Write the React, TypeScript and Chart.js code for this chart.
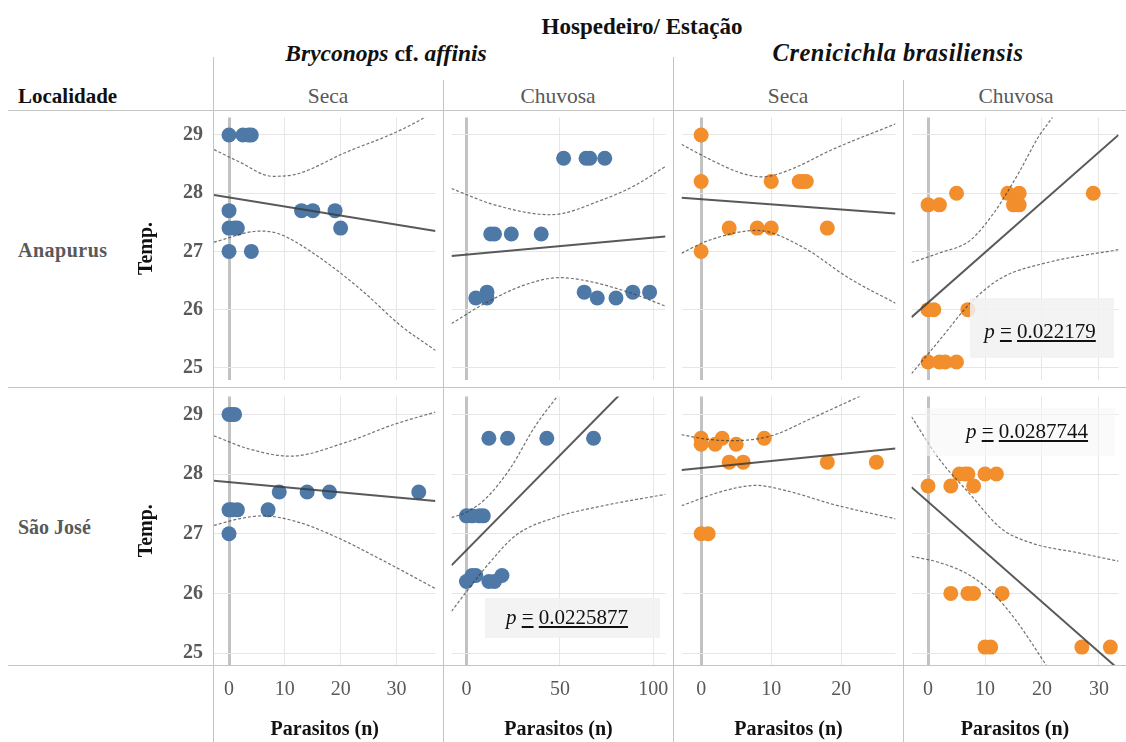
import React, { useEffect, useRef } from "react";
import { Chart, registerables } from "chart.js";
Chart.register(...registerables);

type Pt = [number, number];

// ---------- axes ----------
const tempTicks = [25, 26, 27, 28, 29];
const tempMin = 24.8;
const tempMax = 29.3;
const colXTicks: number[][] = [[0, 10, 20, 30], [0, 50, 100], [0, 10, 20], [0, 10, 20, 30]];
const colXMin = [-2.69, -8, -2.8, -2.9];
const colXMax = [37, 106.5, 27.73, 33.43];

// ---------- labels ----------
const rowLabels = ["Anapurus", "São José"];
const seasonLabels = ["Seca", "Chuvosa", "Seca", "Chuvosa"];
const pValues = ["0.022179", "0.0225877", "0.0287744"];

// ---------- Anapurus / Bryconops / Seca ----------
const anaBrySecaPts: Pt[] = [[0, 29], [2.5, 29], [3.5, 29], [4, 29], [0, 27.7], [0, 27.4], [1, 27.4], [1.5, 27.4], [0, 27], [4, 27], [13, 27.7], [15, 27.7], [19, 27.7], [20, 27.4]];
const anaBrySecaFit: Pt[] = [[-2.7, 27.97], [37, 27.35]];
const anaBrySecaUp: Pt[] = [[-2.7, 28.75], [1.8, 28.54], [7.8, 28.29], [12.2, 28.33], [20.9, 28.7], [29.5, 29.03], [34.5, 29.27], [37, 29.42]];
const anaBrySecaLo: Pt[] = [[-2.7, 27.16], [5.6, 27.35], [9, 27.3], [15.1, 26.97], [23.8, 26.33], [30.7, 25.73], [37, 25.3]];

// ---------- Anapurus / Bryconops / Chuvosa ----------
const anaBryChuvPts: Pt[] = [[52, 28.6], [64, 28.6], [66, 28.6], [74, 28.6], [13, 27.3], [15, 27.3], [24, 27.3], [40, 27.3], [5, 26.2], [11, 26.3], [11, 26.2], [63, 26.3], [70, 26.2], [80, 26.2], [89, 26.3], [98, 26.3]];
const anaBryChuvFit: Pt[] = [[-8, 26.92], [106.5, 27.255]];
const anaBryChuvUp: Pt[] = [[-8, 28.08], [15, 27.8], [45, 27.63], [73, 27.89], [90, 28.13], [106.5, 28.46]];
const anaBryChuvLo: Pt[] = [[-8, 25.76], [10, 26.11], [31.7, 26.43], [50, 26.55], [65, 26.49], [86.7, 26.3], [106.5, 26.06]];

// ---------- Anapurus / Crenicichla / Seca ----------
const anaCreSecaPts: Pt[] = [[0, 29], [0, 28.2], [10, 28.2], [14, 28.2], [14.5, 28.2], [15, 28.2], [4, 27.4], [8, 27.4], [10, 27.4], [18, 27.4], [0, 27]];
const anaCreSecaFit: Pt[] = [[-2.8, 27.92], [27.73, 27.65]];
const anaCreSecaUp: Pt[] = [[-2.8, 28.84], [1.1, 28.59], [5.6, 28.35], [8.7, 28.28], [12.2, 28.38], [18.9, 28.76], [27.73, 29.19]];
const anaCreSecaLo: Pt[] = [[-2.8, 26.97], [1.1, 27.19], [8, 27.36], [14.4, 27.08], [21.1, 26.54], [27.73, 26.11]];

// ---------- Anapurus / Crenicichla / Chuvosa ----------
const anaCreChuvPts: Pt[] = [[0, 27.8], [2, 27.8], [5, 28], [14, 28], [16, 28], [15, 27.8], [16, 27.8], [29, 28], [0, 26], [1, 26], [7, 26], [0, 25.1], [2, 25.1], [3, 25.1], [5, 25.1]];
const anaCreChuvFit: Pt[] = [[-2.9, 25.87], [33.43, 29.0]];
const anaCreChuvUp: Pt[] = [[-2.9, 26.81], [1.9, 26.97], [7.4, 27.19], [11.7, 27.68], [13.8, 28.0], [16.1, 28.38], [19.4, 28.97], [21.8, 29.3], [25, 29.8]];
const anaCreChuvLo: Pt[] = [[-2.9, 24.9], [1.9, 25.46], [7.4, 26.11], [12.8, 26.54], [21, 26.81], [33.43, 27.03]];

// ---------- São José / Bryconops / Seca ----------
const sjBrySecaPts: Pt[] = [[0, 29], [0.5, 29], [1, 29], [0, 27.4], [0.5, 27.4], [1.5, 27.4], [7, 27.4], [0, 27], [9, 27.7], [14, 27.7], [18, 27.7], [34, 27.7]];
const sjBrySecaFit: Pt[] = [[-2.7, 27.89], [37, 27.55]];
const sjBrySecaUp: Pt[] = [[-2.7, 28.64], [3.6, 28.42], [11, 28.3], [20.9, 28.53], [29.5, 28.83], [37, 29.04]];
const sjBrySecaLo: Pt[] = [[-2.7, 27.14], [1.8, 27.25], [6, 27.3], [12.2, 27.2], [19.1, 26.95], [27.2, 26.57], [37, 26.08]];

// ---------- São José / Bryconops / Chuvosa ----------
const sjBryChuvPts: Pt[] = [[12, 28.6], [22, 28.6], [43, 28.6], [68, 28.6], [0, 27.3], [3, 27.3], [7, 27.3], [9, 27.3], [0, 26.2], [3, 26.3], [5, 26.3], [12, 26.2], [15, 26.2], [19, 26.3]];
const sjBryChuvFit: Pt[] = [[-8, 26.47], [106.5, 30.11]];
const sjBryChuvUp: Pt[] = [[-8, 27.27], [0, 27.36], [10, 27.58], [23.3, 28.09], [36.7, 28.8], [49, 29.32], [60, 29.8]];
const sjBryChuvLo: Pt[] = [[-8, 25.7], [0, 26.03], [11.7, 26.49], [26.7, 26.98], [48.3, 27.28], [73.3, 27.47], [106.5, 27.66]];

// ---------- São José / Crenicichla / Seca ----------
const sjCreSecaPts: Pt[] = [[0, 28.6], [3, 28.6], [9, 28.6], [0, 28.5], [2, 28.5], [5, 28.5], [4, 28.2], [6, 28.2], [18, 28.2], [25, 28.2], [0, 27], [1, 27]];
const sjCreSecaFit: Pt[] = [[-2.8, 28.07], [27.73, 28.43]];
const sjCreSecaUp: Pt[] = [[-2.8, 28.66], [1.1, 28.58], [4.5, 28.56], [10, 28.64], [15.3, 28.91], [22.9, 29.32], [27.73, 29.6]];
const sjCreSecaLo: Pt[] = [[-2.8, 27.47], [3.3, 27.72], [7.8, 27.81], [12.2, 27.72], [18.9, 27.49], [27.73, 27.25]];

// ---------- São José / Crenicichla / Chuvosa ----------
const sjCreChuvPts: Pt[] = [[5.5, 28], [6.5, 28], [7, 28], [10, 28], [12, 28], [0, 27.8], [4, 27.8], [8, 27.8], [4, 26], [7, 26], [8, 26], [13, 26], [10, 25.1], [11, 25.1], [27, 25.1], [32, 25.1]];
const sjCreChuvFit: Pt[] = [[-2.9, 27.78], [33.43, 24.73]];
const sjCreChuvUp: Pt[] = [[-2.9, 28.96], [1.9, 28.26], [7.4, 27.66], [12.8, 27.09], [18.3, 26.84], [26.4, 26.68], [33.43, 26.54]];
const sjCreChuvLo: Pt[] = [[-2.9, 26.62], [1.9, 26.52], [7.4, 26.3], [11.7, 25.97], [15.5, 25.54], [20.5, 24.83], [23, 24.45]];

// ---------- layout ----------
const SERIF = '"Liberation Serif", "Times New Roman", serif';
const BLUE = "#4e79a7";
const ORANGE = "#f28e2b";
const areaLeft = [214, 444, 674, 904];
const areaRight = [443, 673, 903, 1126];
const areaTop = [110, 389];
const areaBottom = [387, 665];
const axisLeft = 120;
const pageBottom = 742;

type PanelDef = { r: number; c: number; pts: Pt[]; fit: Pt[]; up: Pt[]; lo: Pt[]; color: string };

const panels: PanelDef[] = [
  { r: 0, c: 0, pts: anaBrySecaPts, fit: anaBrySecaFit, up: anaBrySecaUp, lo: anaBrySecaLo, color: BLUE },
  { r: 0, c: 1, pts: anaBryChuvPts, fit: anaBryChuvFit, up: anaBryChuvUp, lo: anaBryChuvLo, color: BLUE },
  { r: 0, c: 2, pts: anaCreSecaPts, fit: anaCreSecaFit, up: anaCreSecaUp, lo: anaCreSecaLo, color: ORANGE },
  { r: 0, c: 3, pts: anaCreChuvPts, fit: anaCreChuvFit, up: anaCreChuvUp, lo: anaCreChuvLo, color: ORANGE },
  { r: 1, c: 0, pts: sjBrySecaPts, fit: sjBrySecaFit, up: sjBrySecaUp, lo: sjBrySecaLo, color: BLUE },
  { r: 1, c: 1, pts: sjBryChuvPts, fit: sjBryChuvFit, up: sjBryChuvUp, lo: sjBryChuvLo, color: BLUE },
  { r: 1, c: 2, pts: sjCreSecaPts, fit: sjCreSecaFit, up: sjCreSecaUp, lo: sjCreSecaLo, color: ORANGE },
  { r: 1, c: 3, pts: sjCreChuvPts, fit: sjCreChuvFit, up: sjCreChuvUp, lo: sjCreChuvLo, color: ORANGE },
];

const toXY = (a: Pt[]) => a.map(([x, y]) => ({ x, y }));

function Panel({ p }: { p: PanelDef }) {
  const ref = useRef<HTMLCanvasElement | null>(null);
  const left = p.c === 0 ? axisLeft : areaLeft[p.c];
  const top = areaTop[p.r];
  const width = areaRight[p.c] - left;
  const height = (p.r === 1 ? pageBottom : areaBottom[p.r]) - top;
  const yW = p.c === 0 ? areaLeft[0] - axisLeft : 0;
  const xH = p.r === 1 ? pageBottom - areaBottom[1] : 0;

  useEffect(() => {
    if (!ref.current) return;
    const ciStyle = {
      type: "line" as const,
      showLine: true,
      borderColor: "rgba(60,60,60,0.72)",
      borderWidth: 1.2,
      borderDash: [3, 2],
      pointRadius: 0,
      cubicInterpolationMode: "monotone" as const,
      fill: false,
      order: 1,
    };
    const zeroAware = (ctx: any) => (ctx.tick && ctx.tick.value === 0 ? "#c2c2c2" : "#e6e6e6");
    const zeroWidth = (ctx: any) => (ctx.tick && ctx.tick.value === 0 ? 3 : 1);
    const chart = new Chart(ref.current, {
      type: "scatter",
      data: {
        datasets: [
          {
            type: "line",
            showLine: true,
            data: toXY(p.fit),
            borderColor: "rgba(60,60,60,0.85)",
            borderWidth: 2,
            pointRadius: 0,
            fill: false,
            order: 1,
          } as any,
          { ...ciStyle, data: toXY(p.up) } as any,
          { ...ciStyle, data: toXY(p.lo) } as any,
          {
            type: "scatter",
            data: toXY(p.pts),
            backgroundColor: p.color,
            borderColor: p.color,
            borderWidth: 0,
            pointRadius: 7.5,
            order: 2,
          } as any,
        ],
      },
      options: {
        animation: false,
        responsive: false,
        maintainAspectRatio: false,
        events: [],
        layout: { padding: 0 },
        plugins: { legend: { display: false }, tooltip: { enabled: false } },
        scales: {
          x: {
            type: "linear",
            position: "bottom",
            min: colXMin[p.c],
            max: colXMax[p.c],
            afterBuildTicks: (ax: any) => {
              ax.ticks = colXTicks[p.c].map((v) => ({ value: v }));
            },
            afterFit: (s: any) => {
              s.height = xH;
              s.paddingLeft = 0;
              s.paddingRight = 0;
              s.paddingTop = 0;
              s.paddingBottom = 0;
            },
            grid: { drawTicks: false, color: zeroAware, lineWidth: zeroWidth },
            border: { display: false },
            ticks: {
              display: p.r === 1,
              padding: 13,
              maxRotation: 0,
              autoSkip: false,
              color: "#595959",
              font: { family: SERIF, size: 20 },
            },
            title: {
              display: p.r === 1,
              text: "Parasitos (n)",
              color: "#111",
              font: { family: SERIF, size: 20, weight: "bold" },
              padding: { top: 0, bottom: 0 },
            },
          },
          y: {
            type: "linear",
            position: "left",
            min: tempMin,
            max: tempMax,
            afterBuildTicks: (ax: any) => {
              ax.ticks = tempTicks.map((v) => ({ value: v }));
            },
            afterFit: (s: any) => {
              s.width = yW;
              s.paddingLeft = 0;
              s.paddingRight = 0;
              s.paddingTop = 0;
              s.paddingBottom = 0;
            },
            grid: { drawTicks: false, color: "#e6e6e6", lineWidth: 1 },
            border: { display: false },
            ticks: {
              display: p.c === 0,
              padding: 11,
              color: "#595959",
              font: { family: SERIF, size: 20, weight: "bold" },
            },
            title: {
              display: p.c === 0,
              text: "Temp.",
              color: "#111",
              font: { family: SERIF, size: 20, weight: "bold" },
              padding: { top: 15, bottom: 0 },
            },
          },
        },
      } as any,
    });
    return () => chart.destroy();
  }, []);

  return (
    <canvas
      ref={ref}
      width={width}
      height={height}
      style={{ position: "absolute", left, top, width, height, display: "block" }}
    />
  );
}

function Txt({ x, y, center, size, children, style }: any) {
  const fs = size || 20;
  return (
    <div
      style={{
        position: "absolute",
        left: x,
        top: y - fs * 0.6,
        lineHeight: `${fs * 1.2}px`,
        whiteSpace: "nowrap",
        fontFamily: SERIF,
        fontSize: fs,
        transform: center ? "translateX(-50%)" : undefined,
        pointerEvents: "none",
        ...style,
      }}
    >
      {children}
    </div>
  );
}

function VLine({ x, y1, y2 }: { x: number; y1: number; y2: number }) {
  return <div style={{ position: "absolute", left: x, top: y1, width: 1, height: y2 - y1, background: "#c4c4c4" }} />;
}
function HLine({ y, x1, x2 }: { y: number; x1: number; x2: number }) {
  return <div style={{ position: "absolute", left: x1, top: y, width: x2 - x1, height: 1, background: "#c4c4c4" }} />;
}

function PBox({ x, y, w, h, bg }: any) {
  return <div style={{ position: "absolute", left: x, top: y, width: w, height: h, background: bg }} />;
}

function PText({ x, y, value }: any) {
  return (
    <Txt x={x} y={y} center size={21} style={{ color: "#111" }}>
      <i>p</i> <u>=</u> <u>{value}</u>
    </Txt>
  );
}

export default function App() {
  const seasonCenters = [328, 558, 788, 1016];
  return (
    <div style={{ position: "absolute", left: 0, top: 0, width: 1126, height: 742, background: "#fff", overflow: "hidden" }}>
      {panels.map((p) => (
        <Panel key={`${p.r}-${p.c}`} p={p} />
      ))}

      <HLine y={110} x1={8} x2={1126} />
      <HLine y={387} x1={8} x2={1126} />
      <HLine y={665} x1={8} x2={1126} />
      <VLine x={213} y1={57} y2={742} />
      <VLine x={443} y1={80} y2={742} />
      <VLine x={673} y1={57} y2={742} />
      <VLine x={903} y1={80} y2={742} />

      <Txt x={642} y={27} center size={23} style={{ fontWeight: "bold", color: "#111" }}>
        Hospedeiro/ Estação
      </Txt>
      <Txt x={386} y={53} center size={23.5} style={{ fontWeight: "bold", color: "#111" }}>
        <i>Bryconops</i> cf. <i>affinis</i>
      </Txt>
      <Txt x={898} y={53} center size={24.5} style={{ fontWeight: "bold", color: "#111", fontStyle: "italic", letterSpacing: 0.5 }}>
        Crenicichla brasiliensis
      </Txt>
      <Txt x={18} y={97} size={21} style={{ fontWeight: "bold", color: "#111" }}>
        Localidade
      </Txt>
      {seasonLabels.map((s, i) => (
        <Txt key={i} x={seasonCenters[i]} y={97} center size={21.5} style={{ color: "#595959" }}>
          {s}
        </Txt>
      ))}
      <Txt x={18} y={250} style={{ fontWeight: "bold", color: "#595959", letterSpacing: 0.5 }}>
        {rowLabels[0]}
      </Txt>
      <Txt x={18} y={527} style={{ fontWeight: "bold", color: "#595959" }}>
        {rowLabels[1]}
      </Txt>

      <PBox x={970} y={298} w={144} h={60} bg="rgba(241,241,241,0.85)" />
      <PBox x={485} y={598} w={175} h={40} bg="rgba(241,241,241,0.85)" />
      <PBox x={925} y={408} w={190} h={48} bg="rgba(246,246,246,0.6)" />
      <PText x={1040} y={332} value={pValues[0]} />
      <PText x={567} y={618} value={pValues[1]} />
      <PText x={1027} y={432} value={pValues[2]} />
    </div>
  );
}
